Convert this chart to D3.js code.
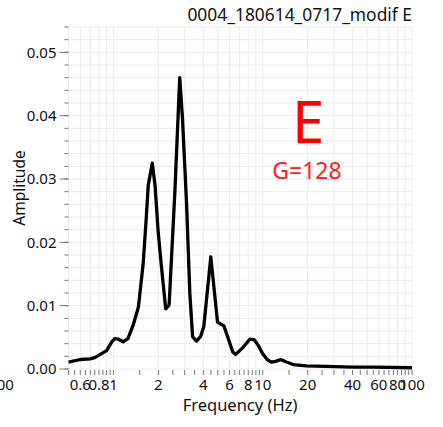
<!DOCTYPE html>
<html>
<head>
<meta charset="utf-8">
<script src="https://cdn.jsdelivr.net/npm/d3@7"></script>
<style>
  body { margin: 0; background: #fff; }
  text { font-family: "Noto Sans", "Open Sans", sans-serif; }
</style>
</head>
<body>
<div id="chart"></div>
<script>
// spectrum values
const freqs = [0.5, 0.6, 0.7, 0.75, 0.8, 0.9, 0.97, 1.02, 1.08, 1.16, 1.25, 1.36, 1.47, 1.58, 1.65, 1.71, 1.82, 1.9, 1.99, 2.1, 2.24, 2.36, 2.58, 2.78, 2.9, 3.09, 3.25, 3.39, 3.6, 3.83, 4.03, 4.49, 4.98, 5.5, 6.3, 6.6, 7.3, 8.2, 8.8, 9.4, 10, 10.7, 11.4, 12.2, 13.2, 14.4, 16, 19.6, 26.7, 40, 55, 100];
const amps = [0.0011, 0.0015, 0.0016, 0.0018, 0.0022, 0.0029, 0.0042, 0.0048, 0.0047, 0.0043, 0.0048, 0.0070, 0.0098, 0.0165, 0.0230, 0.0290, 0.0325, 0.0290, 0.0219, 0.0160, 0.0095, 0.0101, 0.0280, 0.0460, 0.0396, 0.0261, 0.0119, 0.0051, 0.0044, 0.0051, 0.0067, 0.0177, 0.0074, 0.0068, 0.0027, 0.0023, 0.0033, 0.0047, 0.0046, 0.0036, 0.0024, 0.0015, 0.0011, 0.0012, 0.0015, 0.0011, 0.0007, 0.0005, 0.0004, 0.0003, 0.0003, 0.0002];

const xLabels = [0.6, 0.8, 1, 2, 4, 6, 8, 10, 20, 40, 60, 80, 100];
const yLabels = [0, 0.01, 0.02, 0.03, 0.04, 0.05];
const title = "0004_180614_0717_modif E";
const bigLetter = "E";
const gainText = "G=128";

const width = 443, height = 427;
const margin = { top: 27, right: 31, bottom: 58, left: 68.5 };

const svg = d3.select("#chart").append("svg")
    .attr("width", width)
    .attr("height", height);

const x = d3.scaleLog()
    .domain([0.5, 100])
    .range([margin.left, width - margin.right]);

const y = d3.scaleLinear()
    .domain([0, 0.054])
    .range([height - margin.bottom, margin.top]);

// grid
const xGrid = [];
[0.1, 1, 10].forEach(d => { for (let k = 1; k <= 9; k++) xGrid.push(+(d * k).toFixed(2)); });
xGrid.push(100);
const yMinor = d3.range(0, 0.0541, 0.002);

svg.append("g")
    .selectAll("line")
    .data(xGrid.filter(v => v >= 0.5))
    .join("line")
    .attr("x1", d => x(d)).attr("x2", d => x(d))
    .attr("y1", y(0.054)).attr("y2", y(0))
    .attr("stroke", "#ececec");

svg.append("g")
    .selectAll("line")
    .data(yMinor)
    .join("line")
    .attr("x1", x(0.5)).attr("x2", x(100))
    .attr("y1", d => y(d)).attr("y2", d => y(d))
    .attr("stroke", "#ececec");

// x ticks
const xTicks = [];
d3.range(0.5, 1.0001, 0.05).forEach(v => xTicks.push(v));
d3.range(1.5, 10.0001, 0.5).forEach(v => xTicks.push(v));
d3.range(15, 100.0001, 5).forEach(v => xTicks.push(v));

const xAxis = svg.append("g");
xAxis.selectAll("line")
    .data(xTicks)
    .join("line")
    .attr("x1", d => x(d)).attr("x2", d => x(d))
    .attr("y1", y(0) + 1).attr("y2", y(0) + 6)
    .attr("stroke", "#777");

xAxis.selectAll("text")
    .data(xLabels)
    .join("text")
    .attr("x", d => x(d))
    .attr("y", y(0) + 21)
    .attr("text-anchor", "middle")
    .attr("font-size", 15)
    .attr("fill", "#111")
    .text(d => d3.format("~g")(d));

// stray label at the left edge, as in the picture
svg.append("text")
    .attr("x", 1)
    .attr("y", y(0) + 21)
    .attr("text-anchor", "middle")
    .attr("font-size", 15)
    .attr("fill", "#111")
    .text("100");

// y ticks
const yAxis = svg.append("g");
yAxis.selectAll("line.minor")
    .data(yMinor)
    .join("line")
    .attr("class", "minor")
    .attr("x1", margin.left - 4).attr("x2", margin.left)
    .attr("y1", d => y(d)).attr("y2", d => y(d))
    .attr("stroke", "#777");

yAxis.selectAll("line.major")
    .data(yLabels)
    .join("line")
    .attr("class", "major")
    .attr("x1", margin.left - 9).attr("x2", margin.left)
    .attr("y1", d => y(d)).attr("y2", d => y(d))
    .attr("stroke", "#777");

yAxis.selectAll("text")
    .data(yLabels)
    .join("text")
    .attr("x", margin.left - 12)
    .attr("y", d => y(d))
    .attr("dy", "0.35em")
    .attr("text-anchor", "end")
    .attr("font-size", 15)
    .attr("fill", "#111")
    .text(d => d3.format(".2f")(d));

// axis titles
svg.append("text")
    .attr("x", 240)
    .attr("y", height - 16)
    .attr("text-anchor", "middle")
    .attr("font-size", 16.5)
    .attr("fill", "#111")
    .text("Frequency (Hz)");

svg.append("text")
    .attr("transform", "translate(20," + 188 + ") rotate(-90)")
    .attr("dy", "0.35em")
    .attr("text-anchor", "middle")
    .attr("font-size", 15.5)
    .attr("fill", "#111")
    .text("Amplitude");

// title
svg.append("text")
    .attr("x", width - margin.right)
    .attr("y", 21)
    .attr("text-anchor", "end")
    .attr("font-size", 17.4)
    .attr("fill", "#111")
    .text(title);

// the curve
const data = freqs.map((f, i) => ({ f: f, a: amps[i] }));
const line = d3.line()
    .x(d => x(d.f))
    .y(d => y(d.a));

svg.append("path")
    .datum(data)
    .attr("fill", "none")
    .attr("stroke", "#000")
    .attr("stroke-width", 3.3)
    .attr("stroke-linejoin", "round")
    .attr("d", line);

// red annotation
svg.append("text")
    .attr("x", 308)
    .attr("y", 143)
    .attr("text-anchor", "middle")
    .attr("font-family", "Liberation Sans, Arial, sans-serif")
    .attr("font-size", 58)
    .attr("fill", "#ff0000")
    .text(bigLetter);

svg.append("text")
    .attr("x", 307)
    .attr("y", 179)
    .attr("text-anchor", "middle")
    .attr("font-family", "Liberation Sans, Arial, sans-serif")
    .attr("font-size", 23)
    .attr("fill", "#ff2020")
    .text(gainText);
</script>
</body>
</html>
